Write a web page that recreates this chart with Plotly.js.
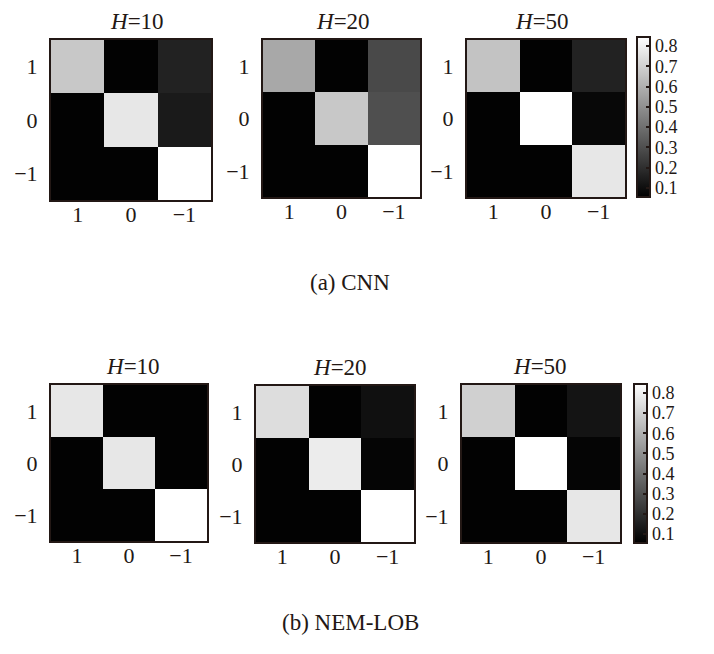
<!DOCTYPE html>
<html>
<head>
<meta charset="utf-8">
<script src="https://cdn.plot.ly/plotly-3.0.1.min.js"></script>
<style>html,body{margin:0;padding:0;background:#fff;}#chart{width:714px;height:654px;}</style>
</head>
<body>
<div id="chart"></div>
<script>
// ---- data ----
var classes = ['1', '0', '\u22121'];
var horizons = ['10', '20', '50'];
var cnnH10 = [[0.675, 0.06, 0.16], [0.06, 0.77, 0.135], [0.06, 0.06, 0.86]];
var cnnH20 = [[0.575, 0.06, 0.28], [0.06, 0.675, 0.30], [0.06, 0.06, 0.86]];
var cnnH50 = [[0.66, 0.06, 0.16], [0.06, 0.86, 0.08], [0.06, 0.06, 0.77]];
var nemH10 = [[0.77, 0.06, 0.06], [0.06, 0.77, 0.06], [0.06, 0.06, 0.86]];
var nemH20 = [[0.74, 0.06, 0.105], [0.06, 0.785, 0.07], [0.06, 0.06, 0.86]];
var nemH50 = [[0.70, 0.06, 0.117], [0.06, 0.86, 0.07], [0.06, 0.06, 0.77]];
var cbTicks = [0.1, 0.2, 0.3, 0.4, 0.5, 0.6, 0.7, 0.8];
var captions = ['(a) CNN', '(b) NEM-LOB'];

// ---- layout helpers ----
var W = 714, H = 654;
function dx(a, b) { return [a / W, b / W]; }
function dy(top, bot) { return [1 - bot / H, 1 - top / H]; }
var SERIF = 'Liberation Serif, Times New Roman, serif';
var INK = '#231815';

var panels = [
  {z: cnnH10, ca: 'coloraxis',  x: dx(51, 211),  y: dy(40, 200),  tx: 137, ty: 21},
  {z: cnnH20, ca: 'coloraxis',  x: dx(263, 420), y: dy(40, 197),  tx: 343, ty: 21},
  {z: cnnH50, ca: 'coloraxis',  x: dx(467, 625), y: dy(40, 197),  tx: 542, ty: 21},
  {z: nemH10, ca: 'coloraxis2', x: dx(51, 207),  y: dy(385, 541), tx: 133, ty: 366},
  {z: nemH20, ca: 'coloraxis2', x: dx(256, 414), y: dy(386, 542), tx: 340, ty: 367},
  {z: nemH50, ca: 'coloraxis2', x: dx(462, 620), y: dy(385, 542), tx: 540, ty: 366}
];

var data = [];
var layout = {
  width: W, height: H,
  margin: {l: 0, r: 0, t: 0, b: 0},
  paper_bgcolor: '#fff', plot_bgcolor: '#fff',
  showlegend: false,
  font: {family: SERIF, size: 22, color: INK},
  annotations: []
};

panels.forEach(function (p, i) {
  var n = i + 1;
  var xa = n === 1 ? 'x' : 'x' + n;
  var ya = n === 1 ? 'y' : 'y' + n;
  data.push({
    type: 'heatmap',
    x: classes, y: classes, z: p.z,
    coloraxis: p.ca,
    xaxis: xa, yaxis: ya,
    hoverinfo: 'skip'
  });
  var axCommon = {
    type: 'category',
    showline: true, mirror: true, linecolor: INK, linewidth: 2,
    showgrid: false, zeroline: false,
    ticks: '',
    tickfont: {family: SERIF, size: 22, color: INK},
    fixedrange: true
  };
  layout['xaxis' + (n === 1 ? '' : n)] = Object.assign({}, axCommon, {
    domain: p.x, anchor: ya, range: [-0.5, 2.5], ticklabelstandoff: -6
  });
  layout['yaxis' + (n === 1 ? '' : n)] = Object.assign({}, axCommon, {
    domain: p.y, anchor: xa, range: [2.5, -0.5],
    ticks: 'outside', ticklen: 7, tickcolor: 'rgba(0,0,0,0)'
  });
  layout.annotations.push({
    xref: 'paper', yref: 'paper',
    x: p.tx / W, y: 1 - p.ty / H,
    xanchor: 'center', yanchor: 'middle',
    showarrow: false,
    text: '<i>H</i>=' + horizons[i % 3],
    font: {family: SERIF, size: 23, color: INK}
  });
});

captions.forEach(function (c, i) {
  layout.annotations.push({
    xref: 'paper', yref: 'paper',
    x: 350 / W, y: 1 - (i === 0 ? 282 : 622) / H,
    xanchor: 'center', yanchor: 'middle',
    showarrow: false,
    text: c,
    font: {family: SERIF, size: 23, color: INK}
  });
});

function cbar(xpx, toppx, lenpx) {
  return {
    x: xpx / W, xanchor: 'left', xref: 'paper',
    y: 1 - toppx / H, yanchor: 'top', yref: 'paper',
    len: lenpx, lenmode: 'pixels',
    thickness: 13, thicknessmode: 'pixels',
    xpad: 0, ypad: 0,
    outlinewidth: 2, outlinecolor: INK,
    ticks: 'inside', ticklen: 5, tickwidth: 2, tickcolor: INK,
    tickvals: cbTicks,
    ticktext: cbTicks.map(function (v) { return v.toFixed(1); }),
    tickfont: {family: SERIF, size: 18, color: INK}
  };
}
var gray = [[0, '#000000'], [1, '#ffffff']];
layout.coloraxis = {cmin: 0.055, cmax: 0.845, colorscale: gray, colorbar: cbar(637, 37, 160)};
layout.coloraxis2 = {cmin: 0.055, cmax: 0.845, colorscale: gray, colorbar: cbar(634, 384, 159)};

Plotly.newPlot('chart', data, layout, {displayModeBar: false, staticPlot: true});
</script>
</body>
</html>
